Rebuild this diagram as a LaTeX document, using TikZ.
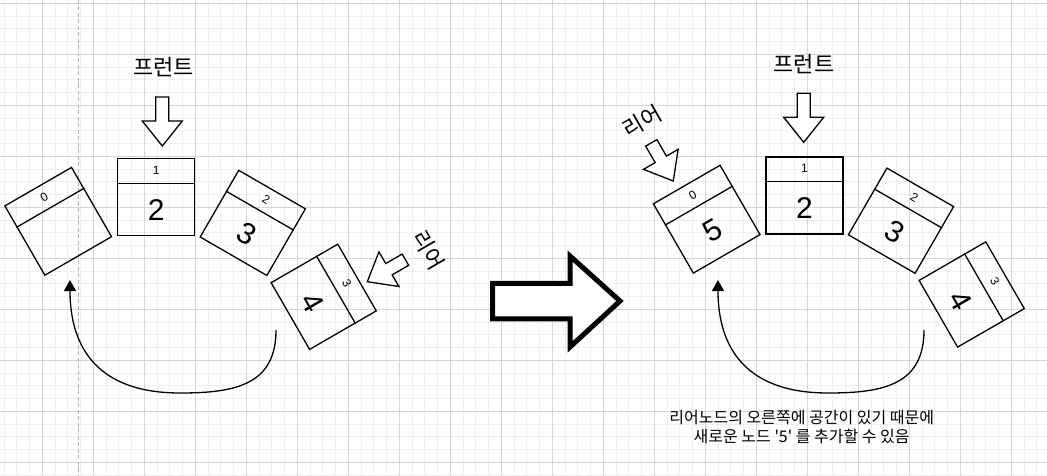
\documentclass[tikz,border=0pt]{standalone}
\usepackage{fontspec}
\setmainfont{Liberation Sans}
\newfontfamily\krfont{Noto Sans CJK KR}[Ligatures=TeXOff]
\usetikzlibrary{calc,arrows.meta}
\definecolor{gridminor}{HTML}{EFEFEF}
\definecolor{gridmajor}{HTML}{D6D6D6}
\definecolor{pagebreak}{HTML}{B4B4B4}

% down-pointing block arrow: tip x, tip y, rotation, length
\newcommand{\blockarrow}[4]{%
  \draw[blockarr,shift={(#1,#2)},rotate=#3] (0,0) -- (20,-25) -- (6.5,-25) -- (6.5,-#4)
    -- (-6.5,-#4) -- (-6.5,-25) -- (-20,-25) -- cycle;}

\begin{document}
\begin{tikzpicture}[x=1pt,y=-1pt,
  qbox/.style={draw,line width=1.3pt,minimum width=77pt,minimum height=77pt,inner sep=0pt},
  idx/.style={font=\fontsize{12}{14}\selectfont,inner sep=0pt},
  val/.style={font=\fontsize{30}{34}\selectfont,inner sep=0pt},
  lbl/.style={font=\krfont\fontsize{22}{24}\selectfont,inner sep=0pt},
  note/.style={font=\krfont\fontsize{16}{19}\selectfont,align=center,inner sep=0pt},
  blockarr/.style={draw,line width=1.3pt,fill=white,line join=miter},
  bigarr/.style={draw,line width=5pt,fill=white,line join=miter},
  curve/.style={line width=1.3pt,-{Triangle[width=12pt,length=11pt]}}]

  \useasboundingbox (0,0) rectangle (1047,476);
  \fill[white] (0,0) rectangle (1047,476);

  % grid
  \foreach \i in {0,...,83}
    \draw[gridminor,line width=0.8pt] ({-8.7+12.75*\i},0) -- ({-8.7+12.75*\i},476);
  \foreach \i in {0,...,37}
    \draw[gridminor,line width=0.8pt] (0,{3.3+12.75*\i}) -- (1047,{3.3+12.75*\i});
  \foreach \i in {0,...,21}
    \draw[gridmajor,line width=0.9pt] ({-8.7+51*\i},0) -- ({-8.7+51*\i},476);
  \foreach \i in {0,...,9}
    \draw[gridmajor,line width=0.9pt] (0,{3.3+51*\i}) -- (1047,{3.3+51*\i});
  \draw[pagebreak,line width=1.5pt,dash pattern=on 4pt off 2.5pt] (78.3,0) -- (78.3,476);

  % left queue
  \node[qbox,minimum height=80pt,rotate=30] (l0) at (58.2,221.3) {};
  \node[qbox] (l1) at (156.3,197.3) {};
  \node[qbox,rotate=-30] (l2) at (252.8,222.9) {};
  \node[qbox,rotate=-60] (l3) at (323.7,296.8) {};

  % right queue
  \node[qbox,minimum height=80pt,rotate=30] (r0) at (706.7,219.2) {};
  \node[qbox] (r1) at (804.5,195.5) {};
  \node[qbox,rotate=-30] (r2) at (901,220.7) {};
  \node[qbox,rotate=-60] (r3) at (971.7,294.5) {};

  \foreach \b/\r/\i/\v in {l0/30/0/{},l1/0/1/2,l2/-30/2/3,l3/-60/3/4,
                           r0/30/0/5,r1/0/1/2,r2/-30/2/3,r3/-60/3/4} {
    \draw[line width=1.3pt] ($(\b.north west)!25pt!(\b.south west)$) -- ($(\b.north east)!25pt!(\b.south east)$);
    \node[idx,rotate=\r] at ($(\b.north)!12.5pt!(\b.south)$) {\i};
    \node[val,rotate=\r] at ($($(\b.north)!25pt!(\b.south)$)!0.5!(\b.south)$) {\v};
  }

  % pointers
  \node[lbl] (lfront) at (163.5,67.5) {프런트};
  \node[lbl] (rfront) at (804,64) {프런트};
  \node[lbl,rotate=-60] (lrear) at (429,250) {리어};
  \node[lbl,rotate=30] (rrear) at (642,121) {리어};
  \blockarrow{162.3}{146}{0}{49}
  \blockarrow{803.7}{142.3}{0}{49}
  \blockarrow{367.3}{281.7}{-60}{44}
  \blockarrow{673.3}{181}{30}{44}

  % wrap-around connectors
  \coordinate (lfrom) at (276,330);
  \coordinate (lto) at (70,280);
  \coordinate (rfrom) at (924,330);
  \coordinate (rto) at (718,280);
  \draw[curve] (lfrom) .. controls (276,385) and (235,393) .. (180,393)
    .. controls (100,393) and (70,350) .. (lto);
  \draw[curve] (rfrom) .. controls (924,385) and (883,393) .. (828,393)
    .. controls (748,393) and (718,350) .. (rto);

  % big arrow
  \draw[bigarr] (492.5,283.3) -- (570,283.3) -- (570,256) -- (620,301) -- (570,347)
    -- (570,318.8) -- (492.5,318.8) -- cycle;

  \node[note] (note) at (801.7,427.5) {리어노드의 오른쪽에 공간이 있기 때문에\\새로운 노드 '5' 를 추가할 수 있음};
\end{tikzpicture}
\end{document}
